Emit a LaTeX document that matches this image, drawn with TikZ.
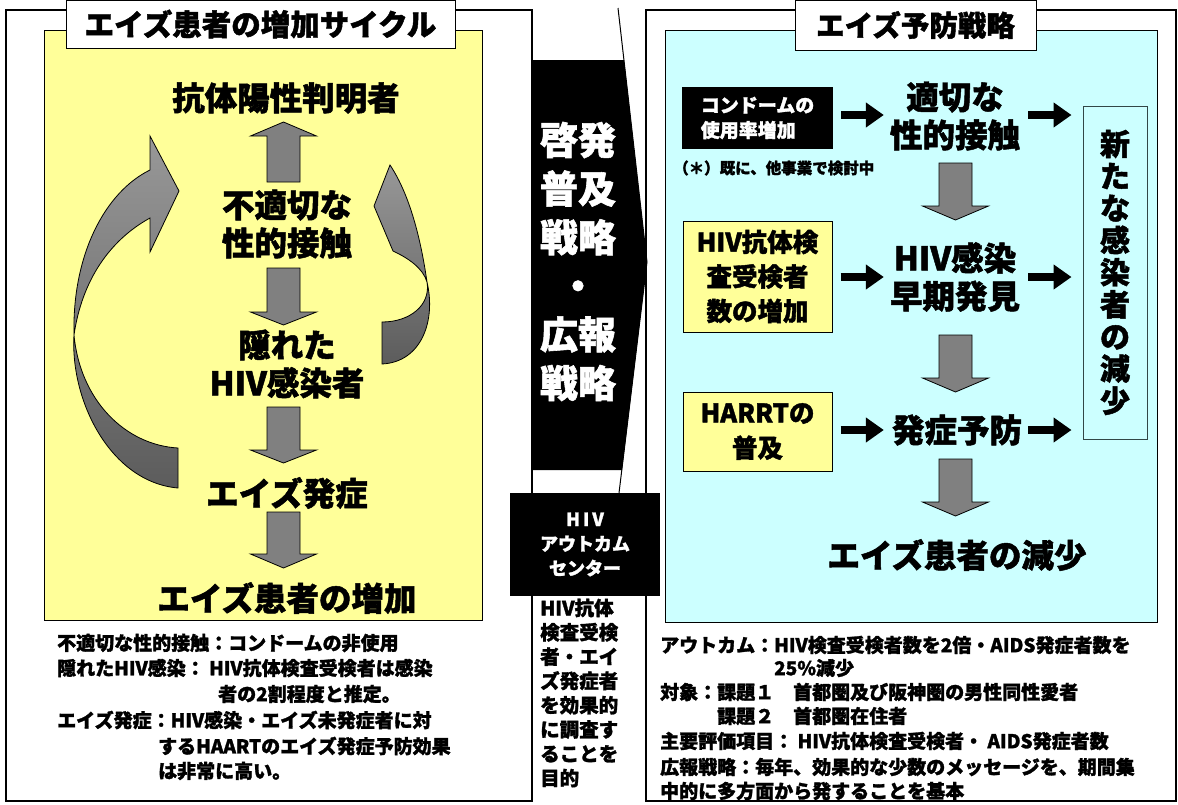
\documentclass[tikz,border=0pt]{standalone}
\usepackage{fontspec}
\setmainfont{Noto Sans CJK JP}[BoldFeatures={FakeBold=1.5}]
\usetikzlibrary{arrows.meta}
\definecolor{yel}{HTML}{FFFF99}
\definecolor{cyn}{HTML}{CCFFFF}
\definecolor{agray}{HTML}{808080}
\definecolor{alight}{HTML}{989898}
\definecolor{adark}{HTML}{5C5C5C}
\newcommand\fsz[2]{\fontsize{#1}{#2}\selectfont}
\newcommand\blkarr[4]{\draw[blk] (#1-16.5,#2) -- (#1+16.5,#2) -- (#1+16.5,#3) -- (#1+33,#3) -- (#1,#4) -- (#1-33,#3) -- (#1-16.5,#3) -- cycle;}
\begin{document}
\begin{tikzpicture}[x=1pt,y=-1pt,
  panel/.style={draw=black, line width=1.3pt},
  inbox/.style={draw=black, line width=1pt},
  blk/.style={fill=agray, draw=black, line width=0.8pt},
  curv/.style={draw=black, line width=0.8pt, top color=alight, bottom color=adark},
  big/.style={font={\bfseries\fsz{32.5}{38}}, align=center, inner sep=0pt},
  note/.style={font={\bfseries\fsz{19}{24}}, anchor=west, inner sep=0pt},
  sarr/.style={line width=8.5pt, -{Triangle[length=18pt,width=24pt]}}]
\useasboundingbox (0,0) rectangle (1178,804);
\fill[white] (0,0) rectangle (1178,804);

% panels
\draw[panel] (6,10) rectangle (532,801);
\draw[panel] (646,10) rectangle (1176,801);
\draw[inbox, fill=yel] (44,30) rectangle (482,620);
\draw[inbox, fill=cyn] (665,30) rectangle (1157,622);
\node[draw=black, line width=1pt, fill=white, minimum width=389pt, minimum height=48pt, inner sep=0pt, font={\bfseries\fsz{29.5}{34}}] (ltitle) at (260.5,24) {エイズ患者の増加サイクル};
\node[draw=black, line width=1pt, fill=white, minimum width=241pt, minimum height=50pt, inner sep=0pt, font={\bfseries\fsz{28.5}{34}}] (rtitle) at (915.5,25) {エイズ予防戦略};

% central black arrow
\fill[black] (532,60) -- (624,60) -- (647,262) -- (622,470) -- (532,470) -- cycle;
\draw[line width=1pt] (618,8) -- (647,262) -- (619,493);
\node[text=white, font={\bfseries\fsz{38}{48.6}}, align=center, inner sep=0pt] (mtext) at (578,261.5) {啓発\\普及\\戦略\\・\\広報\\戦略};
\node[fill=black, minimum width=150pt, minimum height=103pt, text=white, font={\bfseries\fsz{18}{24.5}}, align=center, inner sep=0pt] (ocenter) at (585,544.5) {H\,I\,V\\アウトカム\\センター};
\node[font={\bfseries\fsz{19.5}{24.3}}, align=left, anchor=west, inner sep=0pt] (otext) at (540,693) {HIV抗体\\検査受検\\者・エイ\\ズ発症者\\を効果的\\に調査す\\ることを\\目的};

% left cycle
\node[big] (l1) at (286,98) {抗体陽性判明者};
\blkarr{283.5}{182}{136}{122}
\node[big] (l2) at (287,224) {不適切な\\性的接触};
\blkarr{283.5}{268}{312}{325}
\node[big] (l3) at (287,364) {隠れた\\HIV感染者};
\blkarr{283.5}{407}{450}{463}
\node[big] (l4) at (287,493) {エイズ発症};
\blkarr{283.5}{512}{554}{568}
\node[big] (l5) at (287,598) {エイズ患者の増加};

% curved arrows
\path[curv] (150,170) -- (150,136) -- (179,191) -- (150,252) -- (150,218)
  .. controls (110,240) and (82,280) .. (74,335)
  .. controls (70,400) and (110,482) .. (178,488)
  -- (178,448)
  .. controls (125,445) and (80,400) .. (74,335)
  .. controls (72,255) and (105,192) .. (150,170) -- cycle;
\path[curv] (390,165) -- (374,206) -- (393,251)
  .. controls (408,258) and (423,268) .. (427,282)
  .. controls (431,305) and (410,322) .. (382,322)
  -- (382,364)
  .. controls (422,362) and (436,320) .. (427,282)
  .. controls (421,240) and (410,195) .. (390,165) -- cycle;

% left notes
\node[note] (n1) at (57,643) {不適切な性的接触：コンドームの非使用};
\node[note] (n2) at (57,668) {隠れたHIV感染： HIV抗体検査受検者は感染};
\node[note] (n3) at (218,694) {者の2割程度と推定。};
\node[note] (n4) at (57,720) {エイズ発症：HIV感染・エイズ未発症者に対};
\node[note] (n5) at (158,746) {するHAARTのエイズ発症予防効果};
\node[note] (n6) at (158,771) {は非常に高い。};

% right strategy
\node[fill=black, minimum width=151pt, minimum height=62pt, text=white, font={\bfseries\fsz{19}{25}}, align=left, inner sep=0pt] (cond) at (757.5,118) {コンドームの\\使用率増加};
\node[font={\bfseries\fsz{15.5}{18}}, anchor=west, inner sep=0pt] (pend) at (673,168) {（＊）既に、他事業で検討中};
\node[big] (r1) at (955,116) {適切な\\性的接触};
\node[big] (r2) at (955,277) {HIV感染\\早期発見};
\node[big] (r3) at (957,430) {発症予防};
\node[big] (r4) at (957,555) {エイズ患者の減少};
\node[draw=black, line width=1pt, fill=yel, minimum width=149pt, minimum height=111pt, font={\bfseries\fsz{25.5}{34.5}}, align=center, inner sep=0pt] (hivbox) at (757.5,276.5) {HIV抗体検\\査受検者\\数の増加};
\node[draw=black, line width=1pt, fill=yel, minimum width=149pt, minimum height=79pt, font={\bfseries\fsz{25.5}{35}}, align=center, inner sep=0pt] (harrt) at (757.5,431.5) {HARRTの\\普及};
\node[draw={rgb,255:red,50;green,70;blue,70}, line width=1pt, minimum width=64pt, minimum height=333pt, font={\bfseries\fsz{30}{32.1}}, align=center, inner sep=0pt] (vbox) at (1115,272.5) {新\\た\\な\\感\\染\\者\\の\\減\\少};

\draw[sarr, shorten <=8pt, shorten >=6pt] (cond.east |- 0,115) -- (r1.west |- 0,115);
\draw[sarr, shorten <=8pt, shorten >=6pt] (hivbox.east |- 0,277) -- (r2.west |- 0,277);
\draw[sarr, shorten <=8pt, shorten >=8pt] (harrt.east |- 0,430) -- (r3.west |- 0,430);
\draw[sarr, shorten <=8pt, shorten >=11pt] (r1.east |- 0,115) -- (vbox.west |- 0,115);
\draw[sarr, shorten <=8pt, shorten >=11pt] (r2.east |- 0,277) -- (vbox.west |- 0,277);
\draw[sarr, shorten <=6pt, shorten >=11pt] (r3.east |- 0,430) -- (vbox.west |- 0,430);

\blkarr{955.5}{163}{206}{220}
\blkarr{955.5}{335}{378}{392}
\blkarr{955.5}{459}{502}{516}

% right notes
\node[note] (m1) at (660,645) {アウトカム：HIV検査受検者数を2倍・AIDS発症者数を};
\node[note] (m2) at (774,668) {25\%減少};
\node[note] (m3) at (660,692) {対象：課題１　首都圏及び阪神圏の男性同性愛者};
\node[note] (m4) at (717,716) {課題２　首都圏在住者};
\node[note] (m5) at (660,741) {主要評価項目： HIV抗体検査受検者・ AIDS発症者数};
\node[note] (m6) at (660,767) {広報戦略：毎年、効果的な少数のメッセージを、期間集};
\node[note] (m7) at (660,791) {中的に多方面から発することを基本};
\end{tikzpicture}
\end{document}
